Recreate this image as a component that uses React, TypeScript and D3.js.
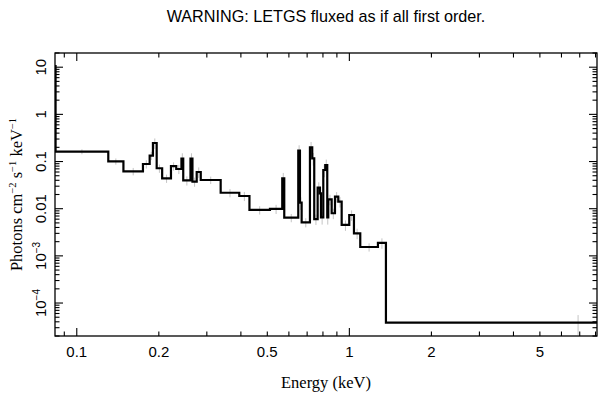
import * as d3 from "d3";

// bin edges (keV) and fluxed values (photons cm^-2 s^-1 keV^-1)
const binEdges = [
  0.08, 0.0836, 0.1305, 0.1483, 0.1749, 0.1851, 0.1903, 0.1964, 0.2057, 0.2216,
  0.2317, 0.2421, 0.2458, 0.2613, 0.2657, 0.2754, 0.285, 0.3372, 0.3946, 0.43,
  0.5113, 0.5673, 0.577, 0.6495, 0.6588, 0.6683, 0.7168, 0.7308, 0.7433, 0.765,
  0.78, 0.7867, 0.8024, 0.8158, 0.8297, 0.8368, 0.8612, 0.8856, 0.9106, 0.9371,
  0.999, 1.0396, 1.0965, 1.273, 1.362, 35,
];
const binFlux = [
  10.5, 0.162, 0.101, 0.062, 0.0887, 0.134, 0.247, 0.072, 0.044, 0.08,
  0.0695, 0.115, 0.0397, 0.115, 0.0374, 0.06, 0.0406, 0.0218, 0.0186, 0.0094,
  0.0099, 0.0441, 0.00645, 0.17, 0.0134, 0.00515, 0.2, 0.117, 0.006, 0.0279,
  0.0212, 0.00657, 0.0662, 0.0845, 0.00657, 0.0158, 0.008, 0.018, 0.0141, 0.00452,
  0.00736, 0.00301, 0.00154, 0.00188, 3.83e-5,
];
// relative errors (grey bars)
const binErr = [
  0, 0.12, 0.15, 0.18, 0.2, 0.2, 0.25, 0.2, 0.2, 0.2,
  0.22, 0.3, 0.22, 0.3, 0.22, 0.25, 0.18, 0.2, 0.22, 0.2,
  0.22, 0.3, 0.2, 0.3, 0.3, 0.22, 0.3, 0.3, 0.25, 0.3,
  0.3, 0.3, 0.3, 0.3, 0.3, 0.25, 0.25, 0.25, 0.25, 0.25,
  0.25, 0.25, 0.2, 0.25, 0.45,
];

const xDomain = [0.0832, 8.1];
const yDomain = [2e-5, 20];
const xTickLabels = [0.1, 0.2, 0.5, 1, 2, 5];
const yTickLabels = [
  { v: 10, base: "10", exp: "" },
  { v: 1, base: "1", exp: "" },
  { v: 0.1, base: "0.1", exp: "" },
  { v: 0.01, base: "0.01", exp: "" },
  { v: 1e-3, base: "10", exp: "\u22123" },
  { v: 1e-4, base: "10", exp: "\u22124" },
];

const W = 609;
const H = 399;
const left = 55;
const right = 597;
const top = 53;
const bottom = 336;

const sans = "'Liberation Sans', Arial, Helvetica, sans-serif";
const serif = "'Liberation Serif', 'Times New Roman', serif";

export default function App() {
  const x = d3.scaleLog().domain(xDomain).range([left, right]);
  const y = d3.scaleLog().domain(yDomain).range([bottom, top]);

  const pts: [number, number][] = binFlux.map((v, i) => [binEdges[i], v]);
  pts.push([binEdges[binEdges.length - 1], binFlux[binFlux.length - 1]]);
  const line = d3
    .line<[number, number]>()
    .x((d) => x(d[0]))
    .y((d) => y(d[1]))
    .curve(d3.curveStepAfter);

  const xTicks = x.ticks();
  const yTicks = y.ticks();
  const isMajor = (v: number) => Math.abs(Math.log10(v) - Math.round(Math.log10(v))) < 1e-6;

  return (
    <div style={{ position: "fixed", left: 0, top: 0 }}>
      <svg width={W} height={H} style={{ display: "block", background: "#fff" }}>
        <defs>
          <clipPath id="plot">
            <rect x={left} y={top} width={right - left} height={bottom - top} />
          </clipPath>
        </defs>

        <text x={(left + right) / 2} y={21.5} textAnchor="middle" fontFamily={sans} fontSize={16.2} fill="#000">
          WARNING: LETGS fluxed as if all first order.
        </text>

        <g clipPath="url(#plot)">
          {binFlux.map((v, i) => {
            if (!binErr[i]) return null;
            const cx = x(Math.sqrt(binEdges[i] * binEdges[i + 1]));
            return (
              <line
                key={`err-${i}`}
                x1={cx}
                x2={cx}
                y1={y(v * (1 - binErr[i]))}
                y2={y(v * (1 + binErr[i]))}
                stroke="#c4c4c4"
                strokeWidth={1}
              />
            );
          })}
          <path d={line(pts) ?? ""} fill="none" stroke="#000" strokeWidth={2.2} strokeLinejoin="miter" />
        </g>

        {/* frame */}
        <rect x={left} y={top} width={right - left} height={bottom - top} fill="none" stroke="#000" strokeWidth={1.3} />

        {/* x ticks, bottom and top */}
        {xTicks.map((t) => {
          const px = x(t);
          const len = isMajor(t) ? 8 : 4.5;
          return (
            <g key={`xt-${t}`} stroke="#000" strokeWidth={1.1}>
              <line x1={px} x2={px} y1={bottom} y2={bottom - len} />
              <line x1={px} x2={px} y1={top} y2={top + len} />
            </g>
          );
        })}
        {/* y ticks, left and right */}
        {yTicks.map((t) => {
          const py = y(t);
          const len = isMajor(t) ? 8 : 4.5;
          return (
            <g key={`yt-${t}`} stroke="#000" strokeWidth={1.1}>
              <line x1={left} x2={left + len} y1={py} y2={py} />
              <line x1={right} x2={right - len} y1={py} y2={py} />
            </g>
          );
        })}

        {xTickLabels.map((t) => (
          <text key={`xl-${t}`} x={x(t)} y={357} textAnchor="middle" fontFamily={sans} fontSize={15} fill="#000">
            {t}
          </text>
        ))}

        {yTickLabels.map((t) => (
          <text
            key={`yl-${t.v}`}
            transform={`translate(45.5,${y(t.v)}) rotate(-90)`}
            textAnchor="middle"
            fontFamily={sans}
            fontSize={15}
            fill="#000"
          >
            {t.base}
            {t.exp && (
              <tspan fontSize={10} dy={-6}>
                {t.exp}
              </tspan>
            )}
          </text>
        ))}

        <text x={(left + right) / 2} y={388} textAnchor="middle" fontFamily={serif} fontSize={16.5} fill="#000">
          Energy (keV)
        </text>

        <text
          transform={`translate(22,${(top + bottom) / 2}) rotate(-90)`}
          textAnchor="middle"
          fontFamily={serif}
          fontSize={16.5}
          fill="#000"
        >
          Photons cm
          <tspan fontSize={10.5} dy={-6.5}>{"\u22122"}</tspan>
          <tspan dy={6.5}> s</tspan>
          <tspan fontSize={10.5} dy={-6.5}>{"\u22121"}</tspan>
          <tspan dy={6.5}> keV</tspan>
          <tspan fontSize={10.5} dy={-6.5}>{"\u22121"}</tspan>
        </text>
      </svg>
    </div>
  );
}
